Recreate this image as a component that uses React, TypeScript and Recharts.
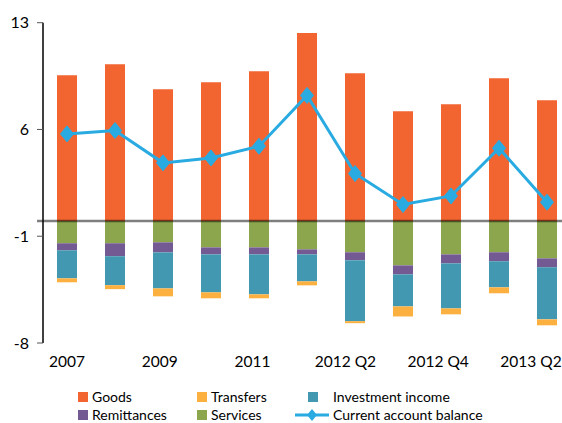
import React from 'react';
import { ComposedChart, Bar, Line, XAxis, YAxis, ReferenceLine, Legend } from 'recharts';

const categories = ['2007', '2008', '2009', '2010', '2011', '2012 Q1', '2012 Q2', '2012 Q3', '2012 Q4', '2013 Q1', '2013 Q2'];
const goods = [9.56, 10.28, 8.64, 9.1, 9.82, 12.32, 9.69, 7.2, 7.66, 9.36, 7.92];
const services = [-1.46, -1.46, -1.4, -1.73, -1.73, -1.86, -2.05, -2.91, -2.19, -2.05, -2.45];
const remittances = [-0.46, -0.85, -0.66, -0.46, -0.46, -0.33, -0.52, -0.59, -0.59, -0.59, -0.59];
const investmentIncome = [-1.84, -1.9, -2.36, -2.49, -2.62, -1.77, -4.0, -2.1, -2.95, -1.71, -3.41];
const transfers = [-0.26, -0.26, -0.52, -0.39, -0.26, -0.26, -0.13, -0.66, -0.39, -0.39, -0.39];
const balance = [5.71, 5.93, 3.81, 4.13, 4.9, 8.23, 3.11, 1.08, 1.64, 4.77, 1.23];
const yTicks = [-8, -1, 6, 13];

const COLORS = {
  goods: '#F26531',
  transfers: '#FBB040',
  invest: '#4298B0',
  remit: '#735A92',
  services: '#8CA64E',
  line: '#29ABE2',
};

const FONT = 'Lato, "Open Sans", sans-serif';

const data = categories.map((c, i) => ({
  category: c,
  goods: goods[i],
  services: services[i],
  remittances: remittances[i],
  investmentIncome: investmentIncome[i],
  transfers: transfers[i],
  balance: balance[i],
}));

const Diamond = (props: any) => {
  const { cx, cy, index } = props;
  if (cx == null || cy == null) return <g key={`d-${index}`} />;
  const w = 6.5;
  const h = 8;
  return (
    <polygon
      key={`d-${index}`}
      points={`${cx},${cy - h} ${cx + w},${cy} ${cx},${cy + h} ${cx - w},${cy}`}
      fill={COLORS.line}
      stroke={COLORS.line}
    />
  );
};

const XTick = (props: any) => {
  const { x, y, payload } = props;
  const idx = payload && typeof payload.index === 'number' ? payload.index : 0;
  const shift = -(idx / 2) * 3.2;
  return (
    <text
      x={x + shift}
      y={y}
      dy="0.71em"
      textAnchor="middle"
      fill="#000"
      fontSize={15.5}
      fontFamily={FONT}
    >
      {payload.value}
    </text>
  );
};

const legendItems = [
  { name: 'Goods', color: COLORS.goods, kind: 'square', col: 0, row: 0 },
  { name: 'Transfers', color: COLORS.transfers, kind: 'square', col: 1, row: 0 },
  { name: 'Investment income', color: COLORS.invest, kind: 'square', col: 2, row: 0 },
  { name: 'Remittances', color: COLORS.remit, kind: 'square', col: 0, row: 1 },
  { name: 'Services', color: COLORS.services, kind: 'square', col: 1, row: 1 },
  { name: 'Current account balance', color: COLORS.line, kind: 'line', col: 2, row: 1 },
];

const colSquareX = [78, 197, 308];
const colTextX = [92, 211, 333];

const LegendContent = () => (
  <div style={{ position: 'relative', width: 600, height: 40, fontFamily: FONT, fontSize: 14, color: '#000' }}>
    {legendItems.map((it) => {
      const top = it.row === 0 ? 4 : 22;
      return (
        <React.Fragment key={it.name}>
          {it.kind === 'square' ? (
            <div
              style={{
                position: 'absolute',
                left: colSquareX[it.col],
                top: top + 5,
                width: 10,
                height: 10,
                background: it.color,
              }}
            />
          ) : (
            <svg style={{ position: 'absolute', left: 294, top: top }} width={36} height={20}>
              <line x1={1} y1={10} x2={35} y2={10} stroke={it.color} strokeWidth={3} />
              <polygon points="18,4 23,10 18,16 13,10" fill={it.color} />
            </svg>
          )}
          <div
            style={{
              position: 'absolute',
              left: colTextX[it.col],
              top: top,
              height: 20,
              lineHeight: '20px',
              whiteSpace: 'nowrap',
            }}
          >
            {it.name}
          </div>
        </React.Fragment>
      );
    })}
  </div>
);

const ZeroLine = (props: any) => {
  const { x1, y1, x2, y2 } = props;
  return <line x1={x1 - 6} y1={y1} x2={x2} y2={y2} stroke="#000" strokeOpacity={0.5} strokeWidth={2.5} />;
};

export default function App() {
  return (
    <div style={{ position: 'absolute', left: 0, top: 0, width: 562, height: 423, overflow: 'hidden', background: '#fff' }}>
      <ComposedChart
        width={600}
        height={423}
        data={data}
        stackOffset="sign"
        margin={{ top: 22.7, right: 29, left: 0, bottom: 0 }}
        barSize={20}
      >
        <XAxis
          dataKey="category"
          interval={1}
          axisLine={false}
          tickLine={false}
          tickSize={6}
          tickMargin={7}
          height={40}
          tick={<XTick />}
        />
        <YAxis
          type="number"
          domain={[-8, 13]}
          ticks={yTicks}
          interval={0}
          width={43}
          axisLine={{ stroke: '#000', strokeWidth: 1.5 }}
          tickLine={{ stroke: '#555' }}
          tickSize={6}
          tickMargin={8}
          tick={{ fill: '#000', fontSize: 16, fontFamily: FONT }}
        />
        <Legend verticalAlign="bottom" wrapperStyle={{ left: 0, width: 600 }} content={<LegendContent />} />
        <Bar dataKey="goods" name="Goods" stackId="a" fill={COLORS.goods} isAnimationActive={false} />
        <Bar dataKey="services" name="Services" stackId="a" fill={COLORS.services} isAnimationActive={false} />
        <Bar dataKey="remittances" name="Remittances" stackId="a" fill={COLORS.remit} isAnimationActive={false} />
        <Bar dataKey="investmentIncome" name="Investment income" stackId="a" fill={COLORS.invest} isAnimationActive={false} />
        <Bar dataKey="transfers" name="Transfers" stackId="a" fill={COLORS.transfers} isAnimationActive={false} />
        <ReferenceLine y={0} shape={<ZeroLine />} />
        <Line
          dataKey="balance"
          name="Current account balance"
          stroke={COLORS.line}
          strokeWidth={3}
          dot={<Diamond />}
          activeDot={false}
          isAnimationActive={false}
        />
      </ComposedChart>
    </div>
  );
}
